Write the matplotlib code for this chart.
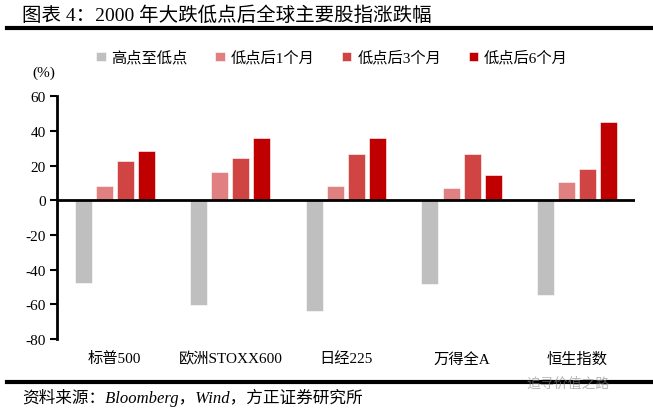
"""2000 年大跌低点后全球主要股指涨跌幅 - grouped bar chart."""

import matplotlib

matplotlib.use("Agg")
import matplotlib.pyplot as plt
import numpy as np

plt.rcParams["font.family"] = ["Liberation Serif", "Noto Sans CJK SC"]

categories = ["标普500", "欧洲STOXX600", "日经225", "万得全A", "恒生指数"]
series_names = ["高点至低点", "低点后1个月", "低点后3个月", "低点后6个月"]
peak_to_trough = [-47.6, -60.4, -64.1, -48.6, -54.4]
after_1m = [8.0, 16.5, 8.1, 7.2, 10.6]
after_3m = [22.7, 24.6, 26.9, 26.9, 18.2]
after_6m = [28.6, 36.2, 35.8, 14.5, 45.3]
y_ticks = [60, 40, 20, 0, -20, -40, -60, -80]

colors = ["#BFBFBF", "#E08080", "#D04444", "#C00000"]

fig = plt.figure(figsize=(6.53, 4.14), dpi=100)
ax = fig.add_axes([0.0873, 0.179, 0.885, 0.586])

x = np.arange(len(categories))
step = 0.182
width = 0.147
all_series = [peak_to_trough, after_1m, after_3m, after_6m]
for i, (vals, name, color) in enumerate(zip(all_series, series_names, colors)):
    offset = (i - 1.5) * step
    ax.bar(x + offset, vals, width=width, color=color, label=name,
           edgecolor="white", linewidth=0.4, zorder=2)

ax.set_xlim(-0.5, len(categories) - 0.5)
ax.set_ylim(-80, 60)
ax.set_yticks(y_ticks)
ax.set_yticklabels([str(t) for t in y_ticks])
ax.axhline(0, color="black", linewidth=2, zorder=3)

for side in ["top", "right", "bottom"]:
    ax.spines[side].set_visible(False)
ax.spines["left"].set_linewidth(2)
ax.spines["left"].set_bounds(-80, 60)
ax.tick_params(axis="y", direction="out", length=5, width=1.5, labelsize=11, pad=3)
ax.set_xticks(x)
ax.set_xticklabels(categories, fontsize=11)
ax.tick_params(axis="x", length=0, pad=9)

ax.legend(loc="center", bbox_to_anchor=(0.476, 1.16), ncol=4,
          frameon=False, fontsize=11, handlelength=0.6, handleheight=0.6,
          handletextpad=0.4, columnspacing=1.8)

fig.text(0.0675, 0.823, "(%)", fontsize=11, ha="center", va="center")

# header and footer
fig.text(0.034, 0.962, "图表 4：2000 年大跌低点后全球主要股指涨跌幅",
         fontsize=14, ha="left", va="center")
fig.add_artist(plt.Line2D([0.011, 1.0], [0.930, 0.930], color="black",
                          linewidth=3, transform=fig.transFigure))
fig.add_artist(plt.Line2D([0.011, 1.0], [0.076, 0.076], color="black",
                          linewidth=3, transform=fig.transFigure))
fig.text(0.034, 0.038, "资料来源：Bloomberg，Wind，方正证券研究所",
         fontsize=12, style="italic", ha="left", va="center")
fig.text(0.87, 0.072, "追寻价值之路", fontsize=10, color="#888888",
         ha="center", va="center", alpha=0.6)

fig.savefig("out.png", dpi=100)
